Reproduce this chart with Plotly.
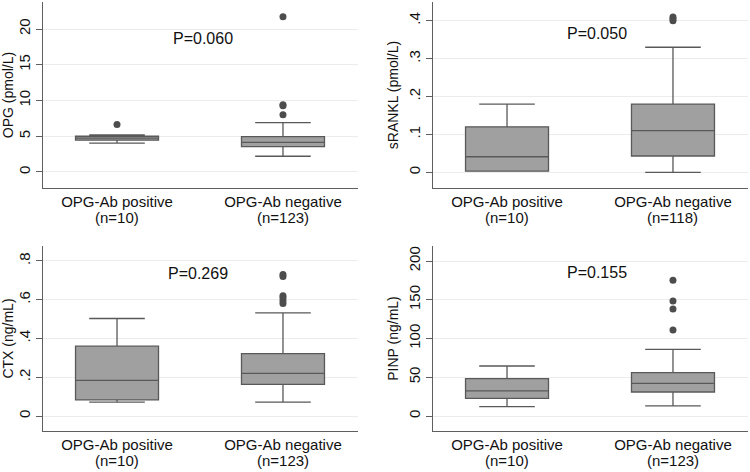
import plotly.graph_objects as go

W, H = 750, 472

groups = ["OPG-Ab positive", "OPG-Ab negative"]

# Panel 1: OPG (pmol/L)
opg_n = ["(n=10)", "(n=123)"]
opg_low = [4.05, 2.2]
opg_q1 = [4.45, 3.55]
opg_med = [4.75, 4.15]
opg_q3 = [5.0, 4.95]
opg_high = [5.2, 6.9]
opg_out_pos = [6.65]
opg_out_neg = [8.0, 9.25, 9.4, 21.7]

# Panel 2: sRANKL (pmol/L)
rankl_n = ["(n=10)", "(n=118)"]
rankl_low = [0.003, 0.0]
rankl_q1 = [0.003, 0.043]
rankl_med = [0.041, 0.11]
rankl_q3 = [0.12, 0.18]
rankl_high = [0.18, 0.33]
rankl_out_pos = []
rankl_out_neg = [0.40, 0.405, 0.41]

# Panel 3: CTX (ng/mL)
ctx_n = ["(n=10)", "(n=123)"]
ctx_low = [0.072, 0.072]
ctx_q1 = [0.083, 0.163]
ctx_med = [0.184, 0.22]
ctx_q3 = [0.36, 0.322]
ctx_high = [0.503, 0.532]
ctx_out_pos = []
ctx_out_neg = [0.58, 0.595, 0.61, 0.62, 0.72, 0.73]

# Panel 4: PINP (ng/mL)
pinp_n = ["(n=10)", "(n=123)"]
pinp_low = [12, 13]
pinp_q1 = [22.8, 31]
pinp_med = [32.3, 42.2]
pinp_q3 = [48.2, 55.9]
pinp_high = [64.5, 86]
pinp_out_pos = []
pinp_out_neg = [111, 138, 148.5, 175]

p_values = ["P=0.060", "P=0.050", "P=0.269", "P=0.155"]
y_titles = ["OPG (pmol/L)", "sRANKL (pmol/L)", "CTX (ng/mL)", "PINP (ng/mL)"]

opg_ticks = [0, 5, 10, 15, 20]
opg_ticktext = ["0", "5", "10", "15", "20"]
rankl_ticks = [0, 0.1, 0.2, 0.3, 0.4]
rankl_ticktext = ["0", ".1", ".2", ".3", ".4"]
ctx_ticks = [0, 0.2, 0.4, 0.6, 0.8]
ctx_ticktext = ["0", ".2", ".4", ".6", ".8"]
pinp_ticks = [0, 50, 100, 150, 200]
pinp_ticktext = ["0", "50", "100", "150", "200"]

FONT = "Liberation Sans, Arial, sans-serif"
BOX_FILL = "#a0a0a0"
BOX_LINE = "#595959"
DOT = "#4d4d4d"
GRID = "#ececec"
AXIS = "#5f5f5f"

panels = [
    dict(low=opg_low, q1=opg_q1, med=opg_med, q3=opg_q3, high=opg_high,
         outp=opg_out_pos, outn=opg_out_neg, n=opg_n, ticks=opg_ticks, tt=opg_ticktext,
         yr=[-2.24, 23.78], xd=[43, 358], yd=[2, 188], p=(203, 38)),
    dict(low=rankl_low, q1=rankl_q1, med=rankl_med, q3=rankl_q3, high=rankl_high,
         outp=rankl_out_pos, outn=rankl_out_neg, n=rankl_n, ticks=rankl_ticks, tt=rankl_ticktext,
         yr=[-0.0414, 0.4494], xd=[433, 748], yd=[2, 188], p=(597, 33)),
    dict(low=ctx_low, q1=ctx_q1, med=ctx_med, q3=ctx_q3, high=ctx_high,
         outp=ctx_out_pos, outn=ctx_out_neg, n=ctx_n, ticks=ctx_ticks, tt=ctx_ticktext,
         yr=[-0.0774, 0.877], xd=[43, 358], yd=[246, 431], p=(198, 273)),
    dict(low=pinp_low, q1=pinp_q1, med=pinp_med, q3=pinp_q3, high=pinp_high,
         outp=pinp_out_pos, outn=pinp_out_neg, n=pinp_n, ticks=pinp_ticks, tt=pinp_ticktext,
         yr=[-19.35, 219.35], xd=[433, 748], yd=[246, 431], p=(597, 272)),
]

fig = go.Figure()
annotations = []
layout = {}
for i, pnl in enumerate(panels):
    k = "" if i == 0 else str(i + 1)
    xa, ya = "x" + k, "y" + k
    fig.add_trace(go.Box(
        x=[0, 1], q1=pnl["q1"], median=pnl["med"], q3=pnl["q3"],
        lowerfence=pnl["low"], upperfence=pnl["high"],
        width=0.5, whiskerwidth=0.67, fillcolor=BOX_FILL,
        line=dict(color=BOX_LINE, width=1.3), boxpoints=False,
        xaxis=xa, yaxis=ya, showlegend=False,
    ))
    ox = [0] * len(pnl["outp"]) + [1] * len(pnl["outn"])
    oy = list(pnl["outp"]) + list(pnl["outn"])
    if oy:
        fig.add_trace(go.Scatter(
            x=ox, y=oy, mode="markers",
            marker=dict(color=DOT, size=7), xaxis=xa, yaxis=ya, showlegend=False,
        ))
    x0, x1 = pnl["xd"]
    yt, yb = pnl["yd"]
    layout["xaxis" + k] = dict(
        domain=[x0 / W, x1 / W], range=[-0.446, 1.452], anchor=ya,
        tickvals=[0, 1], ticktext=groups, ticks="", showgrid=False,
        showline=True, linecolor=AXIS, linewidth=1, zeroline=False,
        tickfont=dict(family=FONT, size=15, color="#111111"),
    )
    layout["yaxis" + k] = dict(
        domain=[1 - yb / H, 1 - yt / H], range=pnl["yr"], anchor=xa,
        tickvals=pnl["ticks"], ticktext=pnl["tt"], tickangle=-90,
        ticks="outside", ticklen=6, tickcolor=AXIS, tickwidth=1,
        showgrid=True, gridcolor=GRID, gridwidth=1,
        showline=True, linecolor=AXIS, linewidth=1, zeroline=False,
        tickfont=dict(family=FONT, size=15, color="#111111"),
        title=dict(text=y_titles[i], font=dict(family=FONT, size=14, color="#111111"), standoff=4),
    )
    for j in range(2):
        annotations.append(dict(
            x=j, xref=xa, y=1 - (yb + 29) / H, yref="paper",
            text=pnl["n"][j], showarrow=False, xanchor="center", yanchor="middle",
            font=dict(family=FONT, size=15, color="#111111"),
        ))
    px, py = pnl["p"]
    annotations.append(dict(
        x=px / W, xref="paper", y=1 - py / H, yref="paper", text=p_values[i],
        showarrow=False, xanchor="center", yanchor="middle",
        font=dict(family=FONT, size=16, color="#111111"),
    ))

fig.update_layout(
    width=W, height=H, margin=dict(l=0, r=0, t=0, b=0),
    paper_bgcolor="white", plot_bgcolor="white",
    annotations=annotations, **layout,
)
fig.write_html("out.html", config={"displayModeBar": False},
               post_script="document.body.style.margin='0px';")
